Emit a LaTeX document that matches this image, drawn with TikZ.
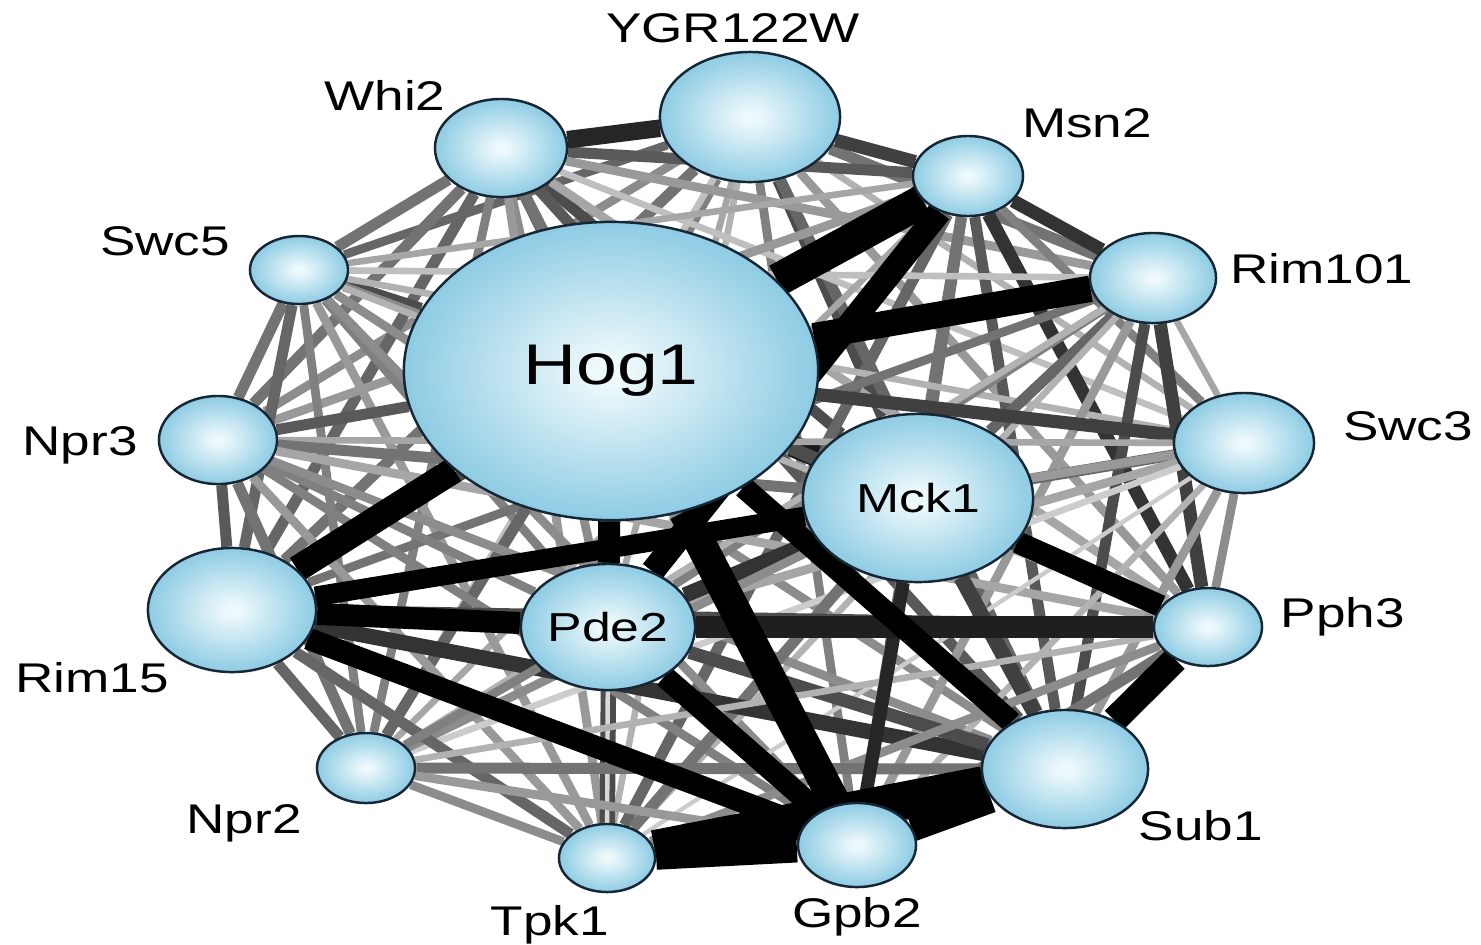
\documentclass[tikz,border=0pt]{standalone}
\usepackage{fontspec}
\setmainfont{Liberation Sans}[FakeStretch=1.28]
\usetikzlibrary{shapes.geometric,backgrounds}

\definecolor{bubin}{RGB}{238,249,252}
\definecolor{bubout}{RGB}{104,186,218}
\definecolor{bubline}{RGB}{22,38,52}
\pgfdeclareradialshading{bubble}{\pgfpoint{0bp}{0bp}}{color(0bp)=(bubin); color(2bp)=(bubin); color(34bp)=(bubout); color(50bp)=(bubout)}

\begin{document}
\begin{tikzpicture}[x=0.01cm,y=-0.01cm]
      \tikzset{
        gene/.style={ellipse,draw=bubline,line width=0.7pt,inner sep=-4pt,shade,shading=bubble},
        axes/.style 2 args={minimum width=#1*0.02cm,minimum height=#2*0.02cm},
        lab/.style={anchor=base,inner sep=0pt,font=\fontsize{11.8}{14}\selectfont},
        link/.style 2 args={draw=black!#1,line width=#2*0.011cm}
      }
      \useasboundingbox (0,0) rectangle (1481,944);

      \node[gene,axes={90}{65}] (ygr) at (750,117) {};
      \node[gene,axes={66}{49}] (whi) at (501,148) {};
      \node[gene,axes={55}{40}] (msn) at (968,176) {};
      \node[gene,axes={49}{34}] (swc5) at (299,270) {};
      \node[gene,axes={63}{45}] (rim101) at (1153,278) {};
      \node[gene,axes={207}{149},font=\fontsize{16.3}{18}\selectfont] (hog) at (611,371) {Hog1};
      \node[gene,axes={59}{44}] (npr3) at (218,440) {};
      \node[gene,axes={70}{50}] (swc3) at (1244,443) {};
      \node[gene,axes={115}{84},font=\fontsize{11.5}{13}\selectfont] (mck) at (918,498) {Mck1};
      \node[gene,axes={84}{62}] (rim15) at (232,610) {};
      \node[gene,axes={87}{63},font=\fontsize{11.5}{13}\selectfont] (pde) at (608,627) {Pde2};
      \node[gene,axes={54}{39}] (pph) at (1208,627) {};
      \node[gene,axes={49}{35}] (npr2) at (366,768) {};
      \node[gene,axes={83}{59}] (sub) at (1065,769) {};
      \node[gene,axes={48}{34}] (tpk) at (607,858) {};
      \node[gene,axes={59}{42}] (gpb) at (857,845) {};

      \node[lab] (ygr-l) at (733,42) {YGR122W};
      \node[lab] (whi-l) at (385,110) {Whi2};
      \node[lab] (msn-l) at (1087,137) {Msn2};
      \node[lab] (swc5-l) at (165,255) {Swc5};
      \node[lab] (rim101-l) at (1322,283) {Rim101};
      \node[lab] (npr3-l) at (80,455) {Npr3};
      \node[lab] (swc3-l) at (1408,440) {Swc3};
      \node[lab] (rim15-l) at (92,692) {Rim15};
      \node[lab] (pph-l) at (1343,627) {Pph3};
      \node[lab] (npr2-l) at (244,833) {Npr2};
      \node[lab] (sub-l) at (1201,840) {Sub1};
      \node[lab] (tpk-l) at (550,935) {Tpk1};
      \node[lab] (gpb-l) at (857,927) {Gpb2};

      \begin{scope}[on background layer]
      % grey links: from/to/black share/width in px
      \foreach \a/\b/\g/\w in {
          ygr/swc5/60/8, ygr/rim101/55/10, ygr/hog/50/10, ygr/npr3/45/8, ygr/swc3/30/6,
          ygr/mck/70/10, ygr/rim15/55/10, ygr/pde/35/6, ygr/pph/40/8, ygr/npr2/25/6,
          ygr/sub/60/10, ygr/tpk/30/6, ygr/gpb/50/8,
          whi/msn/65/10, whi/swc5/55/10, whi/rim101/40/8, whi/hog/60/10, whi/npr3/55/10,
          whi/swc3/25/6, whi/mck/70/10, whi/rim15/60/10, whi/pde/45/8, whi/pph/35/8,
          whi/npr2/50/8, whi/sub/65/10, whi/tpk/40/8, whi/gpb/55/10,
          msn/swc5/35/6, msn/npr3/40/8, msn/swc3/50/8, msn/mck/55/10, msn/rim15/70/10,
          msn/pph/80/12, msn/npr2/35/6, msn/sub/65/10, msn/tpk/60/10, msn/gpb/55/10,
          swc5/rim101/25/6, swc5/hog/70/12, swc5/npr3/55/10, swc5/swc3/30/6, swc5/mck/45/8,
          swc5/rim15/60/10, swc5/pde/50/8, swc5/pph/30/6, swc5/npr2/50/8, swc5/sub/45/8,
          swc5/tpk/40/8, swc5/gpb/45/8,
          rim101/npr3/30/6, rim101/swc3/35/6, rim101/mck/60/10, rim101/rim15/55/8,
          rim101/pde/50/8, rim101/pph/75/12, rim101/npr2/30/6, rim101/sub/70/10,
          rim101/tpk/30/6, rim101/gpb/40/8,
          hog/npr3/65/10, hog/swc3/75/12, hog/mck/90/20, hog/pph/70/12, hog/npr2/60/10,
          hog/tpk/70/14,
          npr3/swc3/35/6, npr3/mck/55/10, npr3/rim15/65/10, npr3/pde/50/8, npr3/pph/35/8,
          npr3/npr2/55/10, npr3/sub/45/8, npr3/tpk/40/8, npr3/gpb/50/8,
          swc3/mck/60/10, swc3/rim15/40/8, swc3/pde/35/8, swc3/pph/45/8, swc3/npr2/20/6,
          swc3/sub/40/8, swc3/tpk/20/4, swc3/gpb/30/6,
          mck/pde/80/14, mck/npr2/45/8, mck/sub/75/14, mck/tpk/55/10,
          rim15/pph/70/12, rim15/npr2/60/10, rim15/sub/80/14, rim15/tpk/60/10,
          pde/npr2/50/8, pde/sub/70/12, pde/tpk/15/4,
          pph/npr2/30/6, pph/tpk/45/8, pph/gpb/55/10,
          npr2/sub/55/10, npr2/tpk/45/8, npr2/gpb/40/8}
        \draw[link={\g}{\w}] (\a) -- (\b);

      % strong links
      \draw (ygr) edge[link={85}{16}] (whi)
            (ygr) edge[link={75}{12}] (msn)
            (msn) edge[link={80}{12}] (rim101)
            (mck) edge[link={85}{12}] (gpb)
            (pde) edge[link={88}{20}] (pph)
            (hog) edge[link={100}{30}] (msn)
            (hog) edge[link={100}{24}] (rim101)
            (msn) edge[link={100}{22}] (pde)
            (hog) edge[link={100}{24}] (rim15)
            (hog) edge[link={100}{20}] (pde)
            (rim15) edge[link={100}{18}] (mck)
            (rim15) edge[link={100}{20}] (pde)
            (rim15) edge[link={100}{20}] (gpb)
            (hog) edge[link={100}{28}] (gpb)
            (hog) edge[link={100}{20}] (sub)
            (mck) edge[link={100}{20}] (pph)
            (pph) edge[link={100}{24}] (sub)
            (pde) edge[link={100}{20}] (gpb)
            (sub) edge[link={100}{30}] (gpb)
            (tpk) edge[link={100}{26}] (gpb)
            (tpk) edge[link={100}{34}] (sub);
      \end{scope}
\end{tikzpicture}
\end{document}
